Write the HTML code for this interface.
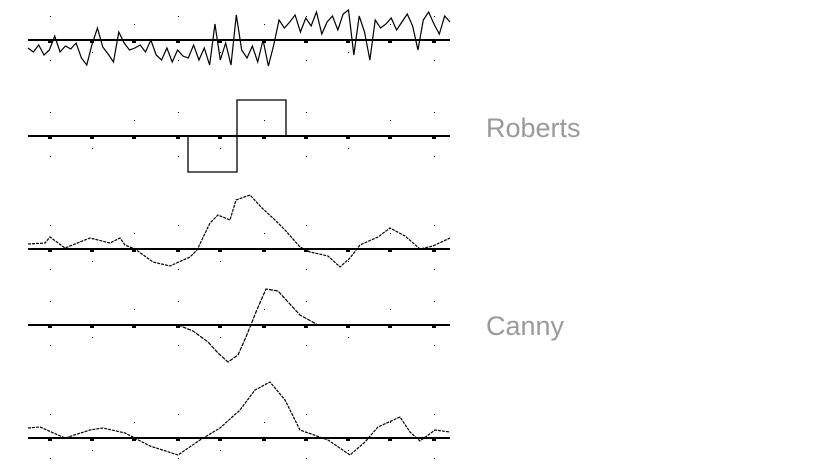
<!DOCTYPE html>
<html><head><meta charset="utf-8">
<style>
html,body{margin:0;padding:0;background:#fff;width:834px;height:468px;overflow:hidden}
svg{display:block}
.lbl{font-family:"Liberation Sans",sans-serif;font-size:27px;fill:#9a9a9a}
</style></head>
<body>
<svg id="chart" width="834" height="468" viewBox="0 0 834 468">
<g id="panels"></g>
<text class="lbl" x="486" y="137">Roberts</text>
<text class="lbl" x="486" y="335">Canny</text>
</svg>
<script>
// x domain: 0..422 (sample position)
const noisyValues = [-8,-12,-5,-15,-10,4,-12,-6,-9,-3,-18,-25,-4,12,-7,-14,-22,8,-3,-10,-8,-5,-12,0,-15,-20,-8,-22,-10,-16,-18,-5,-20,-8,-25,16,-20,-3,-25,25,-10,-18,-6,-22,0,-26,-5,20,12,18,25,8,22,14,28,6,18,24,10,26,30,-15,24,8,-20,20,12,16,22,10,18,26,14,-10,20,28,16,6,24,18];
const robertsX = [0,160,209,258,422];
const robertsValues = [0,-36,36,0];
const smoothX = [0,17,22,37,62,82,92,97,107,125,142,162,169,182,190,202,208,222,234,247,257,272,282,300,312,322,332,350,362,377,392,405,422];
const smoothValues = [5,6,12,1,11,6,11,4,0,-13,-17,-8,-1,26,34,29,49,54,41,29,19,2,-3,-7,-18,-9,4,12,21,13,0,3,11];
const cannyX = [0,100,150,165,180,190,200,210,218,228,238,250,260,272,290,422];
const cannyValues = [0,0,0,-6,-17,-28,-37,-30,-12,13,36,34,23,10,0,0];
const softX = [0,12,37,62,75,97,122,150,172,192,212,227,242,257,272,300,322,337,350,372,382,392,407,422];
const softValues = [10,11,0,8,10,5,-8,-17,-2,10,28,48,56,38,8,-2,-17,-4,11,21,6,-3,8,6];
const tickPositions = [22,64,106,150,192,236,278,320,362,406];

const X0=28, X1=450;
const xs = v => X0 + v*(X1-X0)/422;
const g = document.getElementById('panels');
const NS='http://www.w3.org/2000/svg';
function mk(tag, attrs){const e=document.createElementNS(NS,tag);for(const k in attrs)e.setAttribute(k,attrs[k]);g.appendChild(e);return e;}

function axis(base, name){
  const l = mk('line',{x1:X0,x2:X1,y1:base,y2:base,stroke:'#000','stroke-width':2});
  
  
  tickPositions.forEach(t=>{
    const r = mk('rect',{x:xs(t)-2,y:base+1,width:4,height:2,fill:'#000'});
    
    
  });
  tickPositions.forEach((t,i)=>{
    [-24,-16,12,20].forEach((d,j)=>{
      if((i+j)%3===0){
        const c = mk('rect',{x:xs(t),y:base+d,width:1,height:1,fill:'#000'});
        
        
      }
    });
  });
}
function line(xsArr, vals, base, name, dash){
  const pts = xsArr.map((x,i)=>xs(x)+','+(base-vals[i])).join(' ');
  const p = mk('polyline',{points:pts,fill:'none',stroke:'#000','stroke-width':1.2});
  if(dash) p.setAttribute('stroke-dasharray',dash);
  
  
}

axis(40,'noisy');
const nx = noisyValues.map((v,i)=>i*422/(noisyValues.length-1));
line(nx, noisyValues, 40, 'noisy-signal', null);

axis(136,'roberts');
{
  let pts=[];
  robertsValues.forEach((v,i)=>{pts.push(xs(robertsX[i])+','+(136-v));pts.push(xs(robertsX[i+1])+','+(136-v));});
  const p = mk('polyline',{points:pts.join(' '),fill:'none',stroke:'#000','stroke-width':1.3});
  
  
}

axis(249,'smoothed');
line(smoothX, smoothValues, 249, 'smoothed-signal', '3,1');

axis(325,'canny');
line(cannyX, cannyValues, 325, 'canny-response', '4,1');

axis(438,'filtered');
line(softX, softValues, 438, 'filtered-signal', '3,1');
</script>
</body></html>
